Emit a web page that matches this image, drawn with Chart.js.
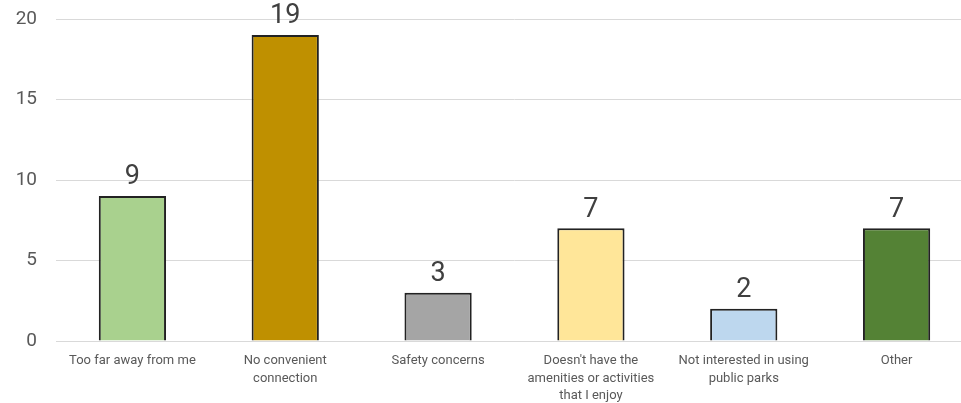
<!DOCTYPE html>
<html>
<head>
<meta charset="utf-8">
<script src="https://cdn.jsdelivr.net/npm/chart.js@4/dist/chart.umd.min.js"></script>
<style>
  html, body { margin: 0; padding: 0; background: #fff; overflow: hidden; }
  #wrap { width: 973px; height: 403px; position: relative; }
</style>
</head>
<body>
<div id="wrap"><canvas id="reasons-chart"></canvas></div>
<script>
const categories = [
  "Too far away from me",
  ["No convenient", "connection"],
  "Safety concerns",
  ["Doesn't have the", "amenities or activities", "that I enjoy"],
  ["Not interested in using", "public parks"],
  "Other",
];
const counts = [9, 19, 3, 7, 2, 7];
const barColors = ["#a9d18e", "#bf9000", "#a5a5a5", "#ffe699", "#bdd7ee", "#548235"];
const yTicks = [0, 5, 10, 15, 20];

// draw the value above each bar
const valueLabels = {
  id: "valueLabels",
  afterDatasetsDraw(chart) {
    const c = chart.ctx;
    const meta = chart.getDatasetMeta(0);
    c.save();
    c.font = "27px Roboto";
    c.fillStyle = "#404040";
    c.textAlign = "center";
    c.textBaseline = "bottom";
    meta.data.forEach((bar, i) => {
      c.fillText(counts[i], bar.x, bar.y - 5);
    });
    c.restore();
  },
};

const ctx = document.getElementById("reasons-chart");

const myChart = new Chart(ctx, {
  type: "bar",
  data: {
    labels: categories,
    datasets: [
      {
        label: "Responses",
        data: counts,
        backgroundColor: barColors,
        borderColor: "#222222",
        borderWidth: 2,
        barPercentage: 0.44,
        categoryPercentage: 1,
      },
    ],
  },
  options: {
    responsive: true,
    maintainAspectRatio: false,
    animation: false,
    layout: {
      padding: { top: 19, left: 0, right: 0, bottom: 0 },
    },
    plugins: {
      legend: { display: false },
      tooltip: { enabled: false },
    },
    scales: {
      y: {
        min: 0,
        max: 20,
        afterFit(scale) {
          scale.width = 56;
          scale.paddingTop = 0;
          scale.paddingBottom = 0;
        },
        afterBuildTicks(scale) { scale.ticks = yTicks.map(v => ({ value: v })); },
        border: { display: false },
        grid: { color: "#d9d9d9", lineWidth: 1, drawTicks: false },
        ticks: {
          padding: 19,
          color: "#595959",
          font: { size: 19, family: "Roboto" },
        },
      },
      x: {
        afterFit(scale) { scale.height = 62; },
        border: { color: "#d9d9d9" },
        grid: { display: false, drawTicks: false },
        ticks: {
          padding: 11,
          maxRotation: 0,
          autoSkip: false,
          color: "#595959",
          font: { size: 13, family: "Roboto", lineHeight: 1.35 },
        },
      },
    },
  },
  plugins: [valueLabels],
});
</script>
</body>
</html>
